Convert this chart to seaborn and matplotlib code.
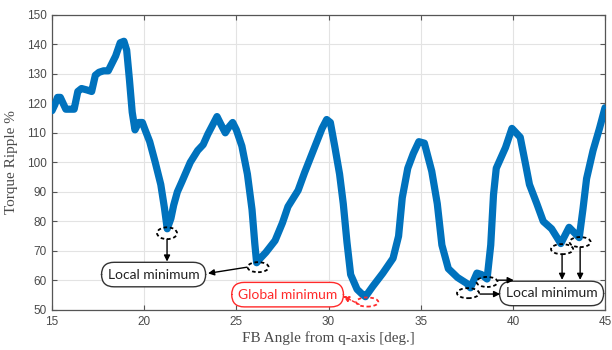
import numpy as np
import pandas as pd
import matplotlib
matplotlib.use("Agg")
import matplotlib.pyplot as plt
import seaborn as sns
from matplotlib.patches import Ellipse

# ---- data ----
fb_angle = [15.0, 15.15, 15.3, 15.45, 15.6, 15.75, 16.0, 16.2, 16.4, 16.6, 16.9, 17.15,
            17.35, 17.55, 17.8, 18.05, 18.25, 18.45, 18.7, 18.9, 19.05, 19.2, 19.35, 19.5,
            19.7, 19.9, 20.05, 20.3, 20.6, 20.9, 21.1, 21.25, 21.45, 21.6, 21.8, 22.05,
            22.5, 22.9, 23.2, 23.45, 23.7, 23.95, 24.15, 24.4, 24.6, 24.8, 25.0, 25.3,
            25.6, 25.85, 26.0, 26.1, 26.3, 26.6, 27.1, 27.5, 27.8, 28.35, 28.7, 29.3,
            29.65, 29.9, 30.1, 30.35, 30.6, 30.8, 31.0, 31.2, 31.55, 31.8, 32.0, 32.4,
            32.95, 33.5, 33.8, 34.0, 34.3, 34.6, 34.9, 35.2, 35.6, 35.9, 36.15, 36.5,
            37.0, 37.5, 37.7, 38.05, 38.3, 38.6, 38.8, 38.95, 39.1, 39.6, 39.95, 40.4,
            40.7, 40.9, 41.3, 41.65, 42.1, 42.6, 43.05, 43.6, 43.8, 44.0, 44.35, 44.7, 45.0]
torque_ripple = [117.5, 119.5, 122, 122, 120, 118, 118, 118, 124, 125, 124.5, 124,
                 129.5, 130.5, 131, 131, 133.5, 136, 140.5, 141, 138, 128, 117, 111,
                 113.5, 113.5, 111, 107, 100, 92.5, 84.5, 77.5, 81, 85.5, 90, 93.5,
                 100, 104, 106, 109.5, 112.5, 115.5, 113, 110, 112, 113.5, 111, 105.5,
                 96, 84, 72.5, 66, 67.5, 69.5, 73.5, 79.5, 85, 90.5, 96.5, 106,
                 111.5, 114.5, 113.5, 105, 96, 86, 73, 62, 57, 55.5, 54.5, 58,
                 62.5, 67.5, 75, 88, 98, 103, 107, 106.5, 97, 86, 72, 64,
                 61, 59, 57.5, 62.5, 62, 60.5, 72, 89, 98, 105, 111.5, 108.5,
                 99, 92.5, 86, 80, 77.5, 72.5, 78, 74.5, 84, 94.5, 104, 111.5, 118.5]

x_ticks = [15, 20, 25, 30, 35, 40, 45]
y_ticks = [50, 60, 70, 80, 90, 100, 110, 120, 130, 140, 150]
x_label = "FB Angle from q-axis [deg.]"
y_label = "Torque Ripple %"

# annotation marks (minima) and labels
local_minima_x = [21.24, 26.18, 37.57, 38.6, 42.67, 43.65]
local_minima_y = [76.0, 64.5, 55.7, 59.5, 70.6, 73.0]
global_min_x, global_min_y = 32.1, 52.7
label_local = "Local minimum"
label_global = "Global minimum"

# ---- style ----
sns.set_theme(style="whitegrid")
plt.rcParams["font.family"] = ["Liberation Sans", "DejaVu Sans"]

fig, ax = plt.subplots(figsize=(6.12, 3.5), dpi=100)
fig.subplots_adjust(left=0.085, right=0.9886, top=0.958, bottom=0.1143)

df = pd.DataFrame({"angle": fb_angle, "ripple": torque_ripple})
blue = "#0072BD"
sns.lineplot(data=df, x="angle", y="ripple", ax=ax, color=blue, linewidth=5.2,
             marker="*", markersize=4, markeredgewidth=0, markerfacecolor=blue,
             solid_capstyle="round", solid_joinstyle="round", zorder=3)

ax.set_xlim(15, 45)
ax.set_ylim(50, 150)
ax.set_xticks(x_ticks)
ax.set_yticks(y_ticks)
ax.set_facecolor("white")
ax.grid(True, color="#e3e3e3", linewidth=0.8)
for s in ax.spines.values():
    s.set_visible(True)
    s.set_color("#555555")
    s.set_linewidth(0.9)
ax.tick_params(direction="in", length=3.5, width=0.8, color="#555555",
               labelsize=8.5, labelcolor="#4a4a4a", top=True, right=True,
               bottom=True, left=True, pad=4)
ax.set_xlabel(x_label, fontsize=11, color="#4a4a4a", family=["Liberation Serif"], labelpad=3)
ax.set_ylabel(y_label, fontsize=11, color="#4a4a4a", family=["Liberation Serif"], labelpad=6)

# ---- annotations ----
sizes = [(1.08, 4.0), (1.14, 3.4), (1.2, 3.4), (1.14, 3.4), (1.2, 3.4), (1.14, 3.4)]
for (mx, my), (w, h) in zip(zip(local_minima_x, local_minima_y), sizes):
    ax.add_patch(Ellipse((mx, my), w, h, fill=False, edgecolor="black",
                         linestyle=(0, (2, 1.5)), linewidth=1.3, zorder=5, clip_on=False))
ax.add_patch(Ellipse((global_min_x, global_min_y), 1.2, 3.1, fill=False, edgecolor="#ff2a2a",
                     linestyle=(0, (2, 1.5)), linewidth=1.3, zorder=5, clip_on=False))

box_kw = dict(boxstyle="round,pad=0.45,rounding_size=0.9", facecolor="white",
              edgecolor="#333333", linewidth=1.0)
tfont = ["Lato", "DejaVu Sans"]
ax.text(20.51, 62.0, label_local, ha="center", va="center", fontsize=10,
        family=tfont, color="#222222", bbox=box_kw, zorder=6)
ax.text(42.1, 55.6, label_local, ha="center", va="center", fontsize=10,
        family=tfont, color="#222222", bbox=box_kw, zorder=6, clip_on=False)
red_box = dict(box_kw)
red_box["edgecolor"] = "#ff2a2a"
ax.text(27.78, 55.2, label_global, ha="center", va="center", fontsize=10,
        family=tfont, color="#ff2a2a", bbox=red_box, zorder=6)

arrow_kw = dict(arrowstyle="-|>", color="black", lw=1.0, mutation_scale=9,
                shrinkA=0, shrinkB=0)
arrows = [((21.24, 74.0), (21.24, 66.4)),
          ((25.58, 64.5), (23.46, 62.4)),
          ((38.22, 55.4), (39.31, 55.4)),
          ((39.2, 60.1), (40.05, 60.1)),
          ((42.67, 68.9), (42.67, 60.2)),
          ((43.65, 71.3), (43.65, 60.2))]
for start, end in arrows:
    ax.annotate("", xy=end, xytext=start, arrowprops=arrow_kw, zorder=7)
red_arrow = dict(arrow_kw)
red_arrow["color"] = "#ff2a2a"
red_arrow["linestyle"] = (0, (2, 1.5))
ax.annotate("", xy=(30.79, 54.7), xytext=(31.66, 51.9), arrowprops=red_arrow, zorder=7)

fig.savefig("out.png", dpi=100, facecolor="white")
